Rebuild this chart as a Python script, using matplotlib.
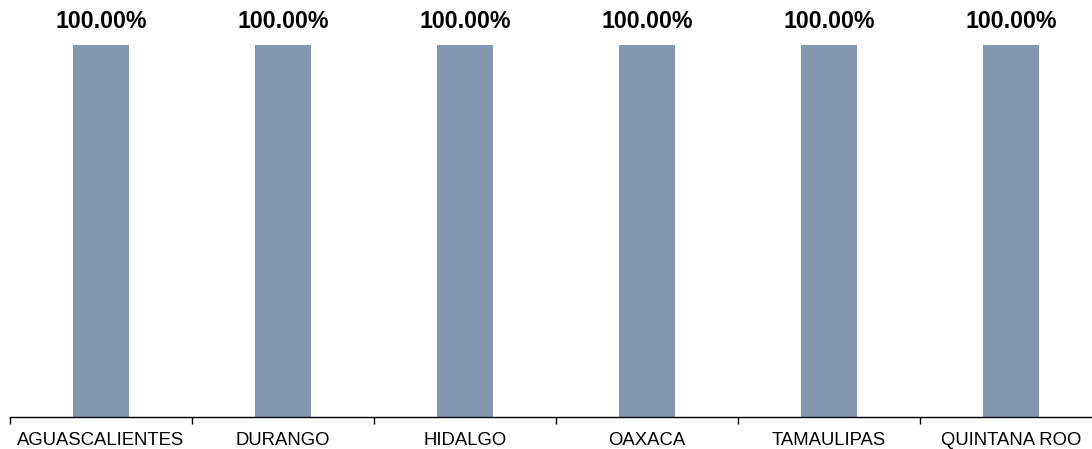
import numpy as np
import matplotlib.pyplot as plt

plt.rcParams['font.family'] = ['Liberation Sans', 'DejaVu Sans']

states = ['AGUASCALIENTES', 'DURANGO', 'HIDALGO', 'OAXACA', 'TAMAULIPAS', 'QUINTANA ROO']
values = [1.0, 1.0, 1.0, 1.0, 1.0, 1.0]
labels = ['100.00%'] * 6

W, H = 1092, 449
fig = plt.figure(figsize=(W / 100, H / 100), dpi=100)
ax = fig.add_axes([10 / W, (H - 417) / H, 1092 / W, (417 - 45) / H])

x = np.arange(len(states))
ax.bar(x, values, width=0.31, color='#8497B0')

for xi, v, lab in zip(x, values, labels):
    ax.annotate(lab, (xi, v), xytext=(0, 8.5), textcoords='offset points',
                ha='center', va='bottom', fontsize=16.7, fontweight='bold')

ax.set_xlim(-0.5, len(states) - 0.5)
ax.set_ylim(0, 1)

# boundaries get the tick marks, centres get the labels
ax.set_xticks(np.arange(len(states) + 1) - 0.5)
ax.set_xticklabels([])
ax.set_xticks(x, minor=True)
ax.set_xticklabels(states, minor=True, fontsize=13.3)
ax.tick_params(axis='x', which='major', length=5, width=1, direction='out')
ax.tick_params(axis='x', which='minor', length=0, pad=11)

ax.set_yticks([])
for s in ['top', 'right', 'left']:
    ax.spines[s].set_visible(False)
ax.spines['bottom'].set_linewidth(1)

fig.savefig('out.png', dpi=100)
